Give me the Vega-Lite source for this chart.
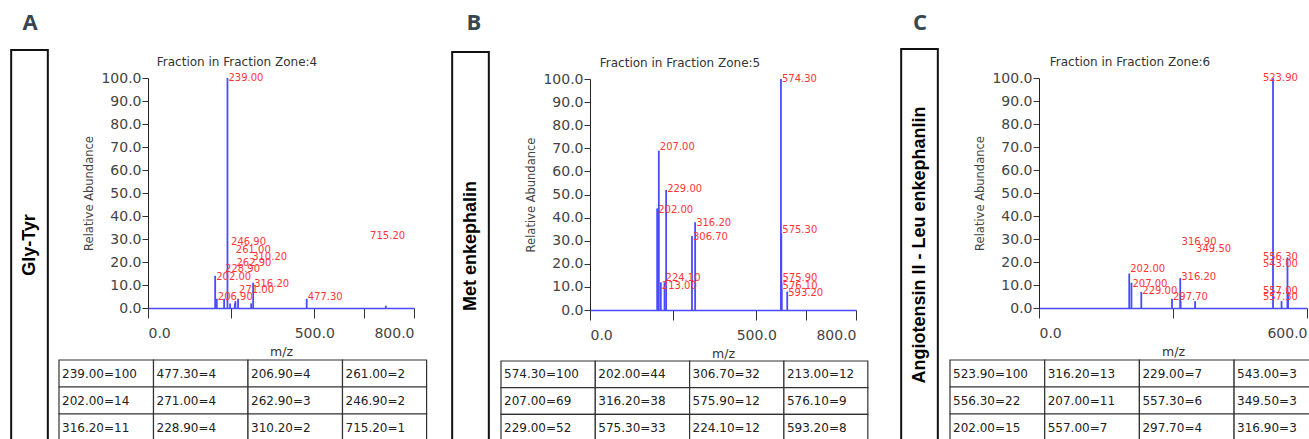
{
"$schema": "https://vega.github.io/schema/vega-lite/v6.json",
"padding": {"left": 10, "top": 0, "right": 0, "bottom": 0},
"autosize": {"type": "pad"},
"config": {"view": {"stroke": null}, "font": "DejaVu Sans"},
"datasets": {
"A": [
{"mz": 239.0, "abundance": 100, "rank": 0, "lx": 239.0, "ly": 100},
{"mz": 202.0, "abundance": 14, "rank": 1, "lx": 202.0, "ly": 13.6},
{"mz": 316.2, "abundance": 11, "rank": 2, "lx": 316.2, "ly": 10.3},
{"mz": 477.3, "abundance": 4, "rank": 3, "lx": 477.3, "ly": 4.6},
{"mz": 271.0, "abundance": 4, "rank": 4, "lx": 271.0, "ly": 7.7},
{"mz": 228.9, "abundance": 4, "rank": 5, "lx": 228.9, "ly": 17.0},
{"mz": 206.9, "abundance": 4, "rank": 6, "lx": 206.9, "ly": 4.8},
{"mz": 262.9, "abundance": 3, "rank": 7, "lx": 262.9, "ly": 19.7},
{"mz": 310.2, "abundance": 2, "rank": 8, "lx": 310.2, "ly": 22.3},
{"mz": 261.0, "abundance": 2, "rank": 9, "lx": 261.0, "ly": 25.2},
{"mz": 246.9, "abundance": 2, "rank": 10, "lx": 246.9, "ly": 28.8},
{"mz": 715.2, "abundance": 1, "rank": 11, "lx": 665.0, "ly": 31.4}
],
"B": [
{"mz": 574.3, "abundance": 100, "rank": 0, "lx": 574.3, "ly": 100},
{"mz": 207.0, "abundance": 69, "rank": 1, "lx": 207.0, "ly": 70.5},
{"mz": 229.0, "abundance": 52, "rank": 2, "lx": 229.0, "ly": 52.4},
{"mz": 202.0, "abundance": 44, "rank": 3, "lx": 202.0, "ly": 43.4},
{"mz": 316.2, "abundance": 38, "rank": 4, "lx": 316.2, "ly": 37.5},
{"mz": 575.3, "abundance": 33, "rank": 5, "lx": 575.3, "ly": 34.6},
{"mz": 306.7, "abundance": 32, "rank": 6, "lx": 306.7, "ly": 31.5},
{"mz": 575.9, "abundance": 12, "rank": 7, "lx": 575.9, "ly": 13.7},
{"mz": 224.1, "abundance": 12, "rank": 8, "lx": 224.1, "ly": 13.7},
{"mz": 213.0, "abundance": 12, "rank": 9, "lx": 213.0, "ly": 10.5},
{"mz": 576.1, "abundance": 9, "rank": 10, "lx": 576.1, "ly": 10.5},
{"mz": 593.2, "abundance": 8, "rank": 11, "lx": 593.2, "ly": 7.5}
],
"C": [
{"mz": 523.9, "abundance": 100, "rank": 0, "lx": 499.0, "ly": 100},
{"mz": 556.3, "abundance": 22, "rank": 1, "lx": 499.0, "ly": 22.1},
{"mz": 202.0, "abundance": 15, "rank": 2, "lx": 202.0, "ly": 16.9},
{"mz": 316.2, "abundance": 13, "rank": 3, "lx": 316.2, "ly": 13.4},
{"mz": 207.0, "abundance": 11, "rank": 4, "lx": 207.0, "ly": 10.5},
{"mz": 557.0, "abundance": 7, "rank": 5, "lx": 499.0, "ly": 7.6},
{"mz": 229.0, "abundance": 7, "rank": 6, "lx": 229.0, "ly": 7.6},
{"mz": 557.3, "abundance": 6, "rank": 7, "lx": 499.0, "ly": 4.6},
{"mz": 297.7, "abundance": 4, "rank": 8, "lx": 297.7, "ly": 4.6},
{"mz": 543.0, "abundance": 3, "rank": 9, "lx": 499.0, "ly": 19.2},
{"mz": 349.5, "abundance": 3, "rank": 10, "lx": 349.5, "ly": 25.6},
{"mz": 316.9, "abundance": 3, "rank": 11, "lx": 316.9, "ly": 28.6}
]
},
"hconcat": [
{"width": 39, "height": 439, "data": {"values": [{"letter": "A", "name": "Gly-Tyr"}]},
 "layer": [
  {"mark": {"type": "rect", "filled": false, "color": "#111111", "strokeWidth": 2, "clip": true},
   "encoding": {"x": {"datum": 0.03, "type": "quantitative", "scale": {"domain": [0, 1], "nice": false, "zero": false}, "axis": null}, "x2": {"datum": 0.97}, "y": {"datum": 0.1139, "type": "quantitative", "scale": {"domain": [0, 1], "nice": false, "zero": false, "reverse": true}, "axis": null}, "y2": {"datum": 1.2}}},
  {"mark": {"type": "text", "font": "Open Sans", "fontWeight": "bold", "fontSize": 22, "color": "#37474f", "baseline": "middle", "align": "center"},
   "encoding": {"x": {"datum": 0.513, "type": "quantitative"}, "y": {"datum": 0.0535, "type": "quantitative"}, "text": {"field": "letter", "type": "nominal"}}},
  {"mark": {"type": "text", "angle": 270, "font": "Liberation Sans", "fontWeight": "bold", "fontSize": 18, "color": "#000000", "baseline": "middle", "align": "center"},
   "encoding": {"x": {"datum": 0.5, "type": "quantitative"}, "y": {"datum": 0.558, "type": "quantitative"}, "text": {"field": "name", "type": "nominal"}}}
 ]},
{"width": 402, "height": 439,
 "layer": [
  {"data": {"name": "A"},
   "layer": [
    {"mark": {"type": "rule", "color": "#4a4aff", "strokeWidth": 1.8},
     "encoding": {
      "x": {"field": "mz", "type": "quantitative", "scale": {"domain": [0, 800], "range": [99, 365], "nice": false, "zero": false},
            "axis": {"title": "m/z", "offset": -131, "values": [0, 250, 500, 650, 800], "labelExpr": "(datum.value == 250 || datum.value == 650) ? '' : format(datum.value, '.1f')", "labelFlush": true, "labelOverlap": false, "domainColor": "#4a4aff", "domainWidth": 1.6, "tickColor": "#333333", "tickSize": 10, "labelFont": "DejaVu Sans", "labelFontSize": 14, "labelColor": "#444444", "labelPadding": 8, "titleFont": "DejaVu Sans", "titleFontSize": 12.5, "titleFontWeight": "normal", "titleColor": "#333333", "titlePadding": 5, "grid": false}},
      "y": {"field": "abundance", "type": "quantitative", "scale": {"domain": [0, 100], "range": [308, 78], "nice": false, "zero": false},
            "axis": {"title": "Relative Abundance", "offset": -99, "values": [0,5,10,15,20,25,30,35,40,45,50,55,60,65,70,75,80,85,90,95,100], "labelExpr": "datum.value % 10 == 0 ? format(datum.value, '.1f') : ''", "labelOverlap": false, "domainColor": "#222222", "tickColor": "#333333", "tickSize": 6, "labelFont": "DejaVu Sans", "labelFontSize": 14, "labelColor": "#444444", "labelPadding": 1, "titleFont": "DejaVu Sans", "titleFontSize": 11.5, "titleFontWeight": "normal", "titleColor": "#444444", "titlePadding": 6, "grid": false}},
      "y2": {"datum": 0}}},
    {"mark": {"type": "text", "align": "left", "baseline": "middle", "dx": 1, "font": "DejaVu Sans", "fontSize": 10, "color": "#ff3535"},
     "encoding": {"x": {"field": "lx", "type": "quantitative"}, "y": {"field": "ly", "type": "quantitative"}, "text": {"field": "mz", "type": "quantitative", "format": ".2f"}}},
    {"data": {"values": [{"t": "Fraction in Fraction Zone:4"}]},
     "mark": {"type": "text", "align": "center", "baseline": "middle", "font": "DejaVu Sans", "fontSize": 12, "color": "#333333"},
     "encoding": {"x": {"datum": 267.7, "type": "quantitative"}, "y": {"datum": 107, "type": "quantitative"}, "text": {"field": "t", "type": "nominal"}}}
   ]},
  {"data": {"name": "A"},
   "transform": [
    {"calculate": "floor(datum.rank / 3)", "as": "col"},
    {"calculate": "min(datum.col + 1, 3.89)", "as": "col_end"},
    {"calculate": "datum.rank % 3", "as": "row"},
    {"calculate": "datum.row + 1", "as": "row_end"},
    {"calculate": "datum.row + 0.5", "as": "row_mid"},
    {"calculate": "format(datum.mz, '.2f') + '=' + datum.abundance", "as": "cell"}
   ],
   "layer": [
    {"mark": {"type": "rect", "fill": "#ffffff", "stroke": "#333333", "strokeWidth": 1.2, "clip": true},
     "encoding": {"x": {"field": "col", "type": "quantitative", "scale": {"domain": [0, 4], "range": [10, 388], "nice": false, "zero": false}, "axis": null}, "x2": {"field": "col_end"}, "y": {"field": "row", "type": "quantitative", "scale": {"domain": [0, 3], "range": [360, 441], "nice": false, "zero": false}, "axis": null}, "y2": {"field": "row_end"}}},
    {"mark": {"type": "text", "align": "left", "baseline": "middle", "dx": 3, "font": "DejaVu Sans", "fontSize": 12, "color": "#222222", "clip": true},
     "encoding": {"x": {"field": "col", "type": "quantitative", "axis": null}, "y": {"field": "row_mid", "type": "quantitative", "axis": null}, "text": {"field": "cell", "type": "nominal"}}}
   ]}
 ],
 "resolve": {"scale": {"x": "independent", "y": "independent"}}},
{"width": 39, "height": 439, "data": {"values": [{"letter": "B", "name": "Met enkephalin"}]},
 "layer": [
  {"mark": {"type": "rect", "filled": false, "color": "#111111", "strokeWidth": 2, "clip": true},
   "encoding": {"x": {"datum": 0.03, "type": "quantitative", "scale": {"domain": [0, 1], "nice": false, "zero": false}, "axis": null}, "x2": {"datum": 0.97}, "y": {"datum": 0.1184, "type": "quantitative", "scale": {"domain": [0, 1], "nice": false, "zero": false, "reverse": true}, "axis": null}, "y2": {"datum": 1.2}}},
  {"mark": {"type": "text", "font": "Open Sans", "fontWeight": "bold", "fontSize": 22, "color": "#37474f", "baseline": "middle", "align": "center"},
   "encoding": {"x": {"datum": 0.59, "type": "quantitative"}, "y": {"datum": 0.0535, "type": "quantitative"}, "text": {"field": "letter", "type": "nominal"}}},
  {"mark": {"type": "text", "angle": 270, "font": "Liberation Sans", "fontWeight": "bold", "fontSize": 18, "color": "#000000", "baseline": "middle", "align": "center"},
   "encoding": {"x": {"datum": 0.5, "type": "quantitative"}, "y": {"datum": 0.5604, "type": "quantitative"}, "text": {"field": "name", "type": "nominal"}}}
 ]},
{"width": 410, "height": 439,
 "layer": [
  {"data": {"name": "B"},
   "layer": [
    {"mark": {"type": "rule", "color": "#4a4aff", "strokeWidth": 1.8},
     "encoding": {
      "x": {"field": "mz", "type": "quantitative", "scale": {"domain": [0, 800], "range": [100, 366], "nice": false, "zero": false},
            "axis": {"title": "m/z", "offset": -129, "values": [0, 250, 500, 650, 800], "labelExpr": "(datum.value == 250 || datum.value == 650) ? '' : format(datum.value, '.1f')", "labelFlush": true, "labelOverlap": false, "domainColor": "#4a4aff", "domainWidth": 1.6, "tickColor": "#333333", "tickSize": 10, "labelFont": "DejaVu Sans", "labelFontSize": 14, "labelColor": "#444444", "labelPadding": 8, "titleFont": "DejaVu Sans", "titleFontSize": 12.5, "titleFontWeight": "normal", "titleColor": "#333333", "titlePadding": 5, "grid": false}},
      "y": {"field": "abundance", "type": "quantitative", "scale": {"domain": [0, 100], "range": [310, 79], "nice": false, "zero": false},
            "axis": {"title": "Relative Abundance", "offset": -100, "values": [0,5,10,15,20,25,30,35,40,45,50,55,60,65,70,75,80,85,90,95,100], "labelExpr": "datum.value % 10 == 0 ? format(datum.value, '.1f') : ''", "labelOverlap": false, "domainColor": "#222222", "tickColor": "#333333", "tickSize": 6, "labelFont": "DejaVu Sans", "labelFontSize": 14, "labelColor": "#444444", "labelPadding": 1, "titleFont": "DejaVu Sans", "titleFontSize": 11.5, "titleFontWeight": "normal", "titleColor": "#444444", "titlePadding": 6, "grid": false}},
      "y2": {"datum": 0}}},
    {"mark": {"type": "text", "align": "left", "baseline": "middle", "dx": 1, "font": "DejaVu Sans", "fontSize": 10, "color": "#ff3535"},
     "encoding": {"x": {"field": "lx", "type": "quantitative"}, "y": {"field": "ly", "type": "quantitative"}, "text": {"field": "mz", "type": "quantitative", "format": ".2f"}}},
    {"data": {"values": [{"t": "Fraction in Fraction Zone:5"}]},
     "mark": {"type": "text", "align": "center", "baseline": "middle", "font": "DejaVu Sans", "fontSize": 12, "color": "#333333"},
     "encoding": {"x": {"datum": 270.7, "type": "quantitative"}, "y": {"datum": 106.9, "type": "quantitative"}, "text": {"field": "t", "type": "nominal"}}}
   ]},
  {"data": {"name": "B"},
   "transform": [
    {"calculate": "floor(datum.rank / 3)", "as": "col"},
    {"calculate": "min(datum.col + 1, 3.89)", "as": "col_end"},
    {"calculate": "datum.rank % 3", "as": "row"},
    {"calculate": "datum.row + 1", "as": "row_end"},
    {"calculate": "datum.row + 0.5", "as": "row_mid"},
    {"calculate": "format(datum.mz, '.2f') + '=' + datum.abundance", "as": "cell"}
   ],
   "layer": [
    {"mark": {"type": "rect", "fill": "#ffffff", "stroke": "#333333", "strokeWidth": 1.2, "clip": true},
     "encoding": {"x": {"field": "col", "type": "quantitative", "scale": {"domain": [0, 4], "range": [11, 388.2], "nice": false, "zero": false}, "axis": null}, "x2": {"field": "col_end"}, "y": {"field": "row", "type": "quantitative", "scale": {"domain": [0, 3], "range": [361, 441], "nice": false, "zero": false}, "axis": null}, "y2": {"field": "row_end"}}},
    {"mark": {"type": "text", "align": "left", "baseline": "middle", "dx": 3, "font": "DejaVu Sans", "fontSize": 12, "color": "#222222", "clip": true},
     "encoding": {"x": {"field": "col", "type": "quantitative", "axis": null}, "y": {"field": "row_mid", "type": "quantitative", "axis": null}, "text": {"field": "cell", "type": "nominal"}}}
   ]}
 ],
 "resolve": {"scale": {"x": "independent", "y": "independent"}}},
{"width": 39, "height": 439, "data": {"values": [{"letter": "C", "name": "Angiotensin II - Leu enkephanlin"}]},
 "layer": [
  {"mark": {"type": "rect", "filled": false, "color": "#111111", "strokeWidth": 2, "clip": true},
   "encoding": {"x": {"datum": 0.03, "type": "quantitative", "scale": {"domain": [0, 1], "nice": false, "zero": false}, "axis": null}, "x2": {"datum": 0.97}, "y": {"datum": 0.1116, "type": "quantitative", "scale": {"domain": [0, 1], "nice": false, "zero": false, "reverse": true}, "axis": null}, "y2": {"datum": 1.2}}},
  {"mark": {"type": "text", "font": "Open Sans", "fontWeight": "bold", "fontSize": 22, "color": "#37474f", "baseline": "middle", "align": "center"},
   "encoding": {"x": {"datum": 0.513, "type": "quantitative"}, "y": {"datum": 0.0535, "type": "quantitative"}, "text": {"field": "letter", "type": "nominal"}}},
  {"mark": {"type": "text", "angle": 270, "font": "Liberation Sans", "fontWeight": "bold", "fontSize": 18, "color": "#000000", "baseline": "middle", "align": "center"},
   "encoding": {"x": {"datum": 0.5, "type": "quantitative"}, "y": {"datum": 0.558, "type": "quantitative"}, "text": {"field": "name", "type": "nominal"}}}
 ]},
{"width": 370, "height": 439,
 "layer": [
  {"data": {"name": "C"},
   "layer": [
    {"mark": {"type": "rule", "color": "#4a4aff", "strokeWidth": 1.8},
     "encoding": {
      "x": {"field": "mz", "type": "quantitative", "scale": {"domain": [0, 600], "range": [100, 368], "nice": false, "zero": false},
            "axis": {"title": "m/z", "offset": -131, "values": [0, 300, 600], "labelExpr": "datum.value == 300 ? '' : format(datum.value, '.1f')", "labelFlush": true, "labelOverlap": false, "domainColor": "#4a4aff", "domainWidth": 1.6, "tickColor": "#333333", "tickSize": 10, "labelFont": "DejaVu Sans", "labelFontSize": 14, "labelColor": "#444444", "labelPadding": 8, "titleFont": "DejaVu Sans", "titleFontSize": 12.5, "titleFontWeight": "normal", "titleColor": "#333333", "titlePadding": 5, "grid": false}},
      "y": {"field": "abundance", "type": "quantitative", "scale": {"domain": [0, 100], "range": [308, 78], "nice": false, "zero": false},
            "axis": {"title": "Relative Abundance", "offset": -100, "values": [0,5,10,15,20,25,30,35,40,45,50,55,60,65,70,75,80,85,90,95,100], "labelExpr": "datum.value % 10 == 0 ? format(datum.value, '.1f') : ''", "labelOverlap": false, "domainColor": "#222222", "tickColor": "#333333", "tickSize": 6, "labelFont": "DejaVu Sans", "labelFontSize": 14, "labelColor": "#444444", "labelPadding": 1, "titleFont": "DejaVu Sans", "titleFontSize": 11.5, "titleFontWeight": "normal", "titleColor": "#444444", "titlePadding": 6, "grid": false}},
      "y2": {"datum": 0}}},
    {"mark": {"type": "text", "align": "left", "baseline": "middle", "dx": 1, "font": "DejaVu Sans", "fontSize": 10, "color": "#ff3535"},
     "encoding": {"x": {"field": "lx", "type": "quantitative"}, "y": {"field": "ly", "type": "quantitative"}, "text": {"field": "mz", "type": "quantitative", "format": ".2f"}}},
    {"data": {"values": [{"t": "Fraction in Fraction Zone:6"}]},
     "mark": {"type": "text", "align": "center", "baseline": "middle", "font": "DejaVu Sans", "fontSize": 12, "color": "#333333"},
     "encoding": {"x": {"datum": 203.7, "type": "quantitative"}, "y": {"datum": 107, "type": "quantitative"}, "text": {"field": "t", "type": "nominal"}}}
   ]},
  {"data": {"name": "C"},
   "transform": [
    {"calculate": "floor(datum.rank / 3)", "as": "col"},
    {"calculate": "datum.col + 1", "as": "col_end"},
    {"calculate": "datum.rank % 3", "as": "row"},
    {"calculate": "datum.row + 1", "as": "row_end"},
    {"calculate": "datum.row + 0.5", "as": "row_mid"},
    {"calculate": "format(datum.mz, '.2f') + '=' + datum.abundance", "as": "cell"}
   ],
   "layer": [
    {"mark": {"type": "rect", "fill": "#ffffff", "stroke": "#333333", "strokeWidth": 1.2, "clip": true},
     "encoding": {"x": {"field": "col", "type": "quantitative", "scale": {"domain": [0, 4], "range": [11, 389.8], "nice": false, "zero": false}, "axis": null}, "x2": {"field": "col_end"}, "y": {"field": "row", "type": "quantitative", "scale": {"domain": [0, 3], "range": [360, 441], "nice": false, "zero": false}, "axis": null}, "y2": {"field": "row_end"}}},
    {"mark": {"type": "text", "align": "left", "baseline": "middle", "dx": 3, "font": "DejaVu Sans", "fontSize": 12, "color": "#222222", "clip": true},
     "encoding": {"x": {"field": "col", "type": "quantitative", "axis": null}, "y": {"field": "row_mid", "type": "quantitative", "axis": null}, "text": {"field": "cell", "type": "nominal"}}}
   ]}
 ],
 "resolve": {"scale": {"x": "independent", "y": "independent"}}}
],
"spacing": 0,
"bounds": "flush"
}
